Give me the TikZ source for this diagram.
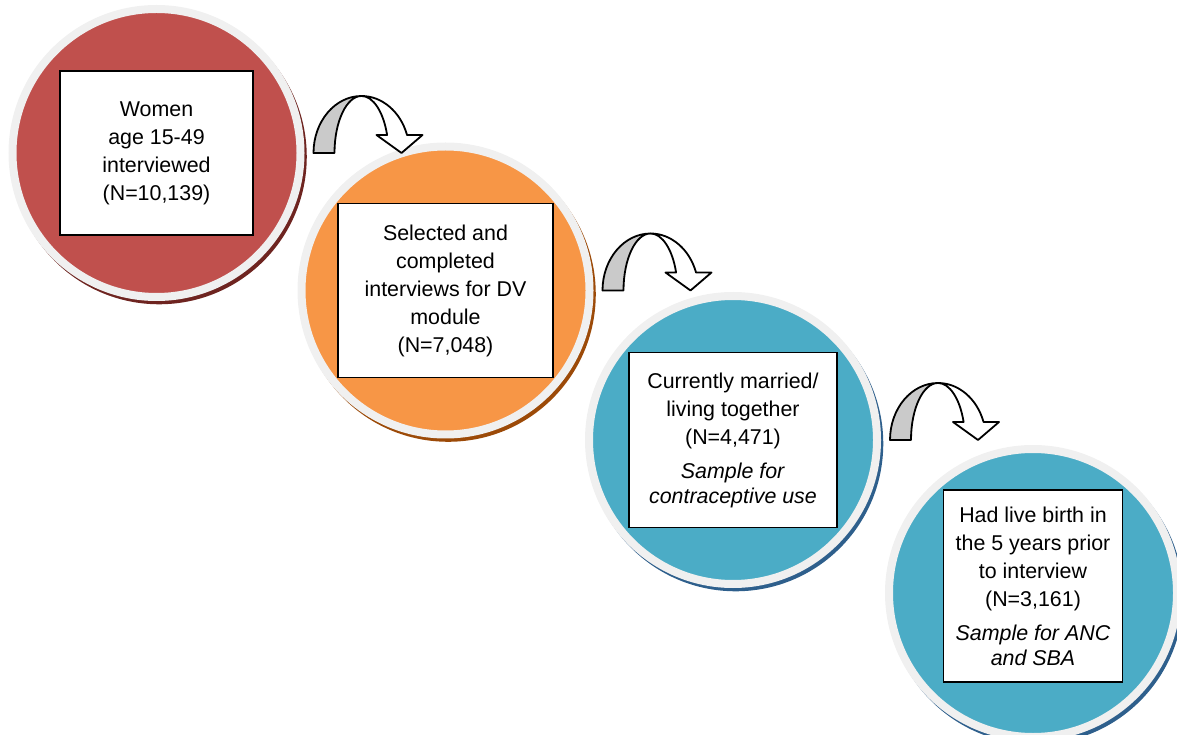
\documentclass[tikz,border=0pt]{standalone}
\usepackage{fontspec}
\setmainfont{Liberation Sans}
\usepackage{tikz}
\usetikzlibrary{
  shadows,
  positioning
}

\definecolor{stagered}{HTML}{C0504D}
\definecolor{stageredshade}{HTML}{6E2420}
\definecolor{stageorange}{HTML}{F79646}
\definecolor{stageorangeshade}{HTML}{9C4A08}
\definecolor{stageblue}{HTML}{4BACC6}
\definecolor{stageblueshade}{HTML}{2E5F8C}
\definecolor{ringgrey}{HTML}{F0F0F0}
\definecolor{backgrey}{HTML}{CACACA}

\begin{document}
\begin{tikzpicture}[x=0.5pt,y=0.5pt,
      stage/.style 2 args={
         circle,
         minimum size=144pt,
         inner sep=0pt,
         line width=4pt,
         draw=ringgrey,
         fill=#1,
         drop shadow={shadow xshift=1.3pt,shadow yshift=-1.8pt,
            shadow scale=1.025,opacity=1,fill=#2}
      },
      box/.style={
         rectangle,
         draw=black,
         line width=0.8pt,
         fill=white,
         align=center,
         inner sep=2pt,
         font=\fontsize{10.7}{14}\selectfont
         %text height=1.5ex,
         %text depth=.25ex
      },
      arrow line/.style={draw=black,line width=0.9pt,line join=round},
      turn arrow/.pic={
         % back part
         \draw[arrow line,fill=backgrey] (0,0) -- (21,0)
            arc[start angle=180,end angle=90,x radius=27,y radius=57]
            arc[start angle=90,end angle=180,x radius=48,y radius=57] -- cycle;
         % front part with head
         \draw[arrow line,fill=white] (48,57)
            arc[start angle=90,end angle=18.4,x radius=48,y radius=57]
            -- (109,18) -- (88,0) -- (63,18) -- (73.6,18)
            arc[start angle=18.4,end angle=90,x radius=27,y radius=57] -- cycle;
      }
    ]
    \useasboundingbox (0,0) rectangle (1177,734);

    \node (s1) [stage={stagered}{stageredshade}] at (156.5,581) {};
    \node (s2) [stage={stageorange}{stageorangeshade}] at (445.5,443.5) {};
    \node (s3) [stage={stageblue}{stageblueshade}] at (733,294) {};
    \node (s4) [stage={stageblue}{stageblueshade}] at (1033,141) {};

    \node (t1) [box, minimum width=96.5pt, minimum height=82pt] at (s1)
       {Women\\age 15-49\\interviewed\\(N=10,139)};
    \node (t2) [box, minimum width=107.5pt, minimum height=87pt] at (s2)
       {Selected and\\completed\\interviews for DV\\module\\(N=7,048)};
    \node (t3) [box, minimum width=104pt, minimum height=87.5pt] at (s3)
       {Currently married/\\living together\\(N=4,471)\\[3pt]
        \textit{Sample for}\\[-1.5pt]\textit{contraceptive use}};
    \node (t4) [box, minimum width=89.5pt, minimum height=96pt, yshift=3.5pt] at (s4)
       {Had live birth in\\the 5 years prior\\to interview\\(N=3,161)\\[3pt]
        \textit{Sample for ANC}\\[-1.5pt]\textit{and SBA}};

    \pic at ([xshift=4.5pt]s1.east) {turn arrow};
    \pic at ([xshift=4.5pt]s2.east) {turn arrow};
    \pic at ([xshift=4.5pt]s3.east) {turn arrow};
\end{tikzpicture}
\end{document}
